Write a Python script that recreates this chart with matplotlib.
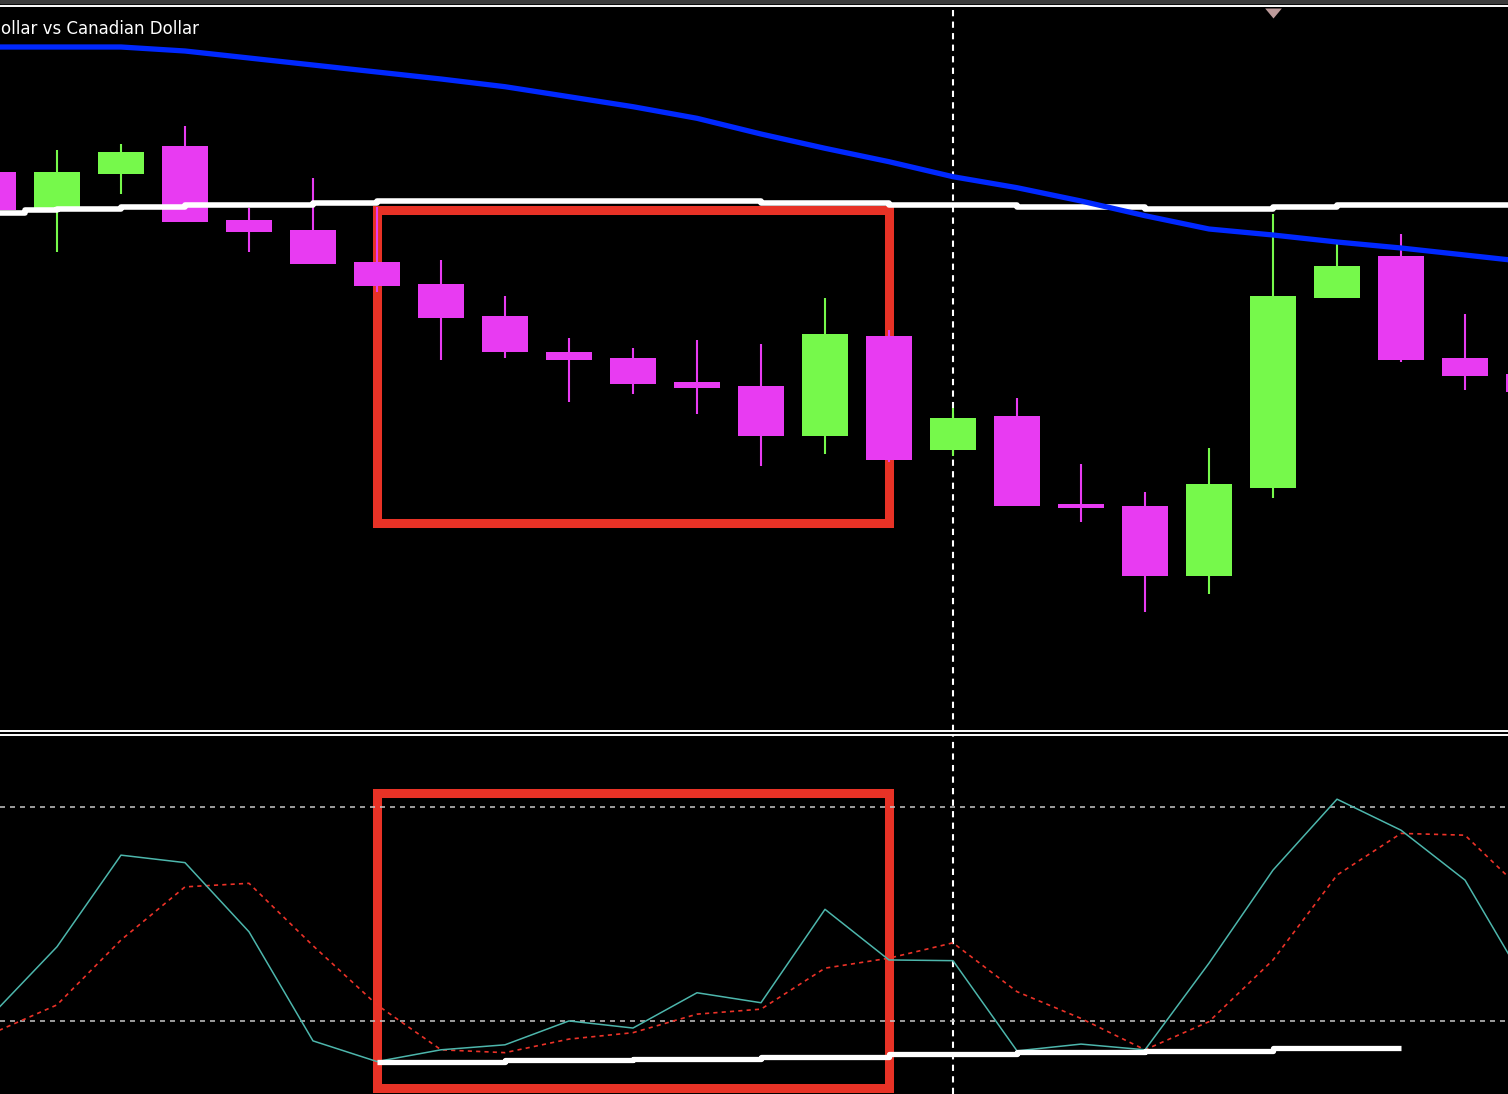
import numpy as np
import matplotlib.pyplot as plt
from matplotlib.patches import Rectangle

plt.rcParams['lines.scale_dashes'] = False

# ---- price panel (top panel units, larger = lower) ----
bar_idx = np.arange(25)
opens  = [172, 208, 174, 146, 220, 230, 262, 284, 316, 352, 358, 382, 386, 436,
          336, 450, 416, 504, 506, 576, 488, 298, 256, 358, 374]
highs  = [160, 150, 144, 126, 208, 178, 207, 260, 296, 338, 348, 340, 344, 298,
          330, 408, 398, 464, 492, 448, 214, 244, 234, 314, 368]
lows   = [214, 252, 194, 222, 252, 264, 292, 360, 358, 402, 394, 414, 466, 454,
          462, 456, 506, 522, 612, 594, 498, 298, 362, 390, 396]
closes = [210, 172, 152, 222, 232, 264, 286, 318, 352, 360, 384, 388, 436, 334,
          460, 418, 506, 508, 576, 484, 296, 266, 360, 376, 392]

ma_line = [47, 47, 47, 51, 58, 65, 72, 79, 86.7, 96.7, 106.7, 118.3, 134, 148.3,
           161.7, 176.7, 187.7, 201, 215.7, 229, 235, 242, 248, 255, 262]

# white stepped level in price panel
lvl_edges = [0, 0.5, 1, 2, 3, 5, 6, 12, 14, 16, 18, 20, 21, 24]
lvl_vals = [213, 210, 209, 207.5, 205, 203, 200.7, 202.7, 204.7, 207, 209, 207, 205]

# ---- stochastic panel ----
stoch_main = [22.0, 40.8, 66.5, 64.4, 45.0, 14.4, 8.6, 11.9, 13.3, 20.0, 18.0, 27.9,
              25.1, 51.3, 37.1, 36.9, 11.6, 13.5, 11.9, 36.2, 62.3, 82.2, 73.5, 59.5, 29.0]
stoch_signal = [16.6, 24.5, 42.7, 57.6, 58.6, 41.1, 24.5, 11.9, 11.1, 14.9, 16.7, 21.9,
                23.3, 34.8, 37.6, 41.9, 28.2, 20.7, 11.9, 19.8, 37.1, 60.9, 72.6, 72.1, 54.8]
stoch_levels = [80, 20]

# white stepped line in stochastic panel
st_edges = [6, 8, 10, 12, 14, 16, 18, 20, 22]
st_vals = [8.35, 8.9, 9.3, 10.0, 10.6, 11.2, 11.7, 12.3]

# highlighted region (bar range) and boxes
box_bars = (6, 14)
box_price = (209.5, 522.5)
box_stoch = (1.2, 83.9)
cross_bar = 15
arrow_bar, arrow_y = 20, 13

title = "ollar vs Canadian Dollar"

BULL = '#76F94B'
BEAR = '#E83BF2'
RED = '#E83226'

W, H = 1508, 1094
fig = plt.figure(figsize=(W / 100, H / 100), dpi=100, facecolor='black')
ax1 = fig.add_axes([0, 1 - 731 / H, 1, (731 - 6) / H])
ax2 = fig.add_axes([0, 0, 1, (H - 735) / H])

xlim = (7 / 64, (W + 7) / 64)
for ax in (ax1, ax2):
    ax.set_facecolor('black')
    ax.set_xlim(*xlim)
    ax.set_xticks([])
    ax.set_yticks([])
    for s in ('left', 'right', 'bottom', 'top'):
        ax.spines[s].set_visible(False)

ax1.set_ylim(731, 6)
ax1.spines['top'].set_visible(True)
ax1.spines['top'].set_color('white')
ax1.spines['top'].set_linewidth(1.4)
ax1.spines['bottom'].set_visible(True)
ax1.spines['bottom'].set_color('white')
ax1.spines['bottom'].set_linewidth(1.4)

ax2.set_ylim(-0.5, 100.2)
ax2.spines['top'].set_visible(True)
ax2.spines['top'].set_color('white')
ax2.spines['top'].set_linewidth(1.4)

# gray strip at very top
fig.add_artist(Rectangle((0, 1 - 3 / H), 1, 3 / H, transform=fig.transFigure,
                         color='#3c3c3c', zorder=0))

# boxes
ax1.add_patch(Rectangle((box_bars[0], box_price[0]), box_bars[1] - box_bars[0],
                        box_price[1] - box_price[0], fill=False, ec=RED, lw=6.5,
                        joinstyle='miter', zorder=1))
ax2.add_patch(Rectangle((box_bars[0], box_stoch[0]), box_bars[1] - box_bars[0],
                        box_stoch[1] - box_stoch[0], fill=False, ec=RED, lw=6.5,
                        joinstyle='miter', zorder=1))

# crosshair
for ax in (ax1, ax2):
    ax.axvline(cross_bar, color='white', lw=1.5, dashes=(4.5, 3.8), zorder=1.5)

# candles
o = np.array(opens); c = np.array(closes)
cols = [BULL if cc < oo else BEAR for oo, cc in zip(o, c)]
ax1.vlines(bar_idx, highs, lows, colors=cols, lw=1.5, zorder=2)
ax1.bar(bar_idx, np.abs(c - o), bottom=np.minimum(o, c), width=46 / 64,
        color=cols, zorder=2.1)

# white level + MA
ax1.step(lvl_edges, lvl_vals + [lvl_vals[-1]], where='post', color='white', lw=4,
         solid_capstyle='butt', zorder=3)
ax1.plot(bar_idx, ma_line, color='#0028FF', lw=3.8, zorder=4)

# top marker (down-pointing)
ax1.plot([arrow_bar], [arrow_y], marker=[(-1, 0.6), (1, 0.6), (0, -0.6)],
         ms=12, color='#BC9A9A', mec='none', zorder=5)

# stochastic
for lv in stoch_levels:
    ax2.axhline(lv, color='#C8C8C8', lw=1.1, dashes=(3.6, 3.6), zorder=2)
ax2.plot(bar_idx, stoch_signal, color='#EB3228', lw=1.2, dashes=(3, 3), zorder=3)
ax2.plot(bar_idx, stoch_main, color='#4DB6AC', lw=1.1, zorder=3.5)
ax2.step(st_edges, st_vals + [st_vals[-1]], where='post', color='white', lw=3.8,
         solid_capstyle='butt', zorder=4)

fig.text(1 / W, 1 - 34 / H, title, color='white', fontsize=12,
         family='DejaVu Sans', va='baseline', ha='left')

fig.savefig('out.png', dpi=100, facecolor='black')
